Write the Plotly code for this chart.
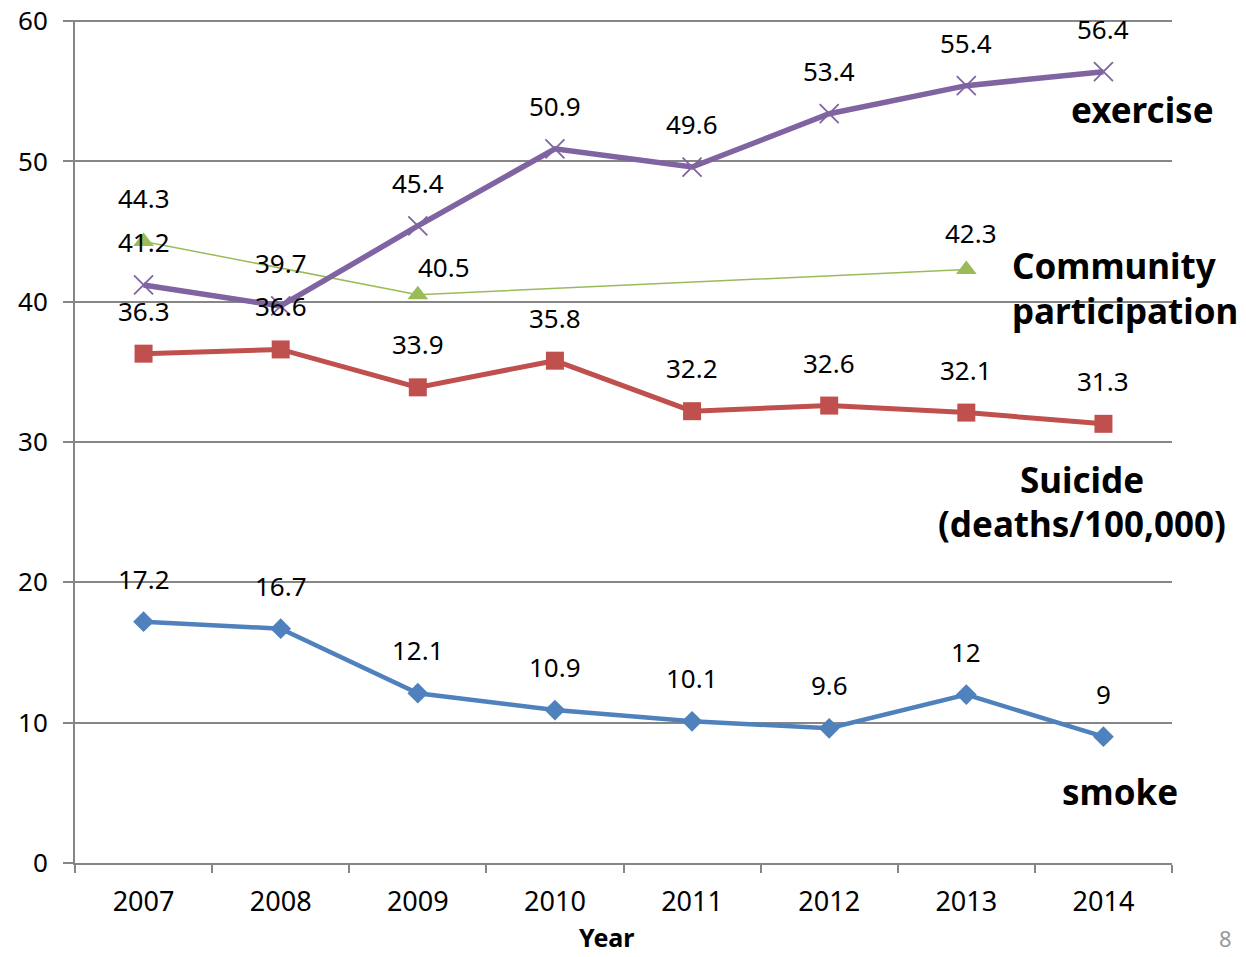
import plotly.graph_objects as go

years = ["2007", "2008", "2009", "2010", "2011", "2012", "2013", "2014"]
exercise = [41.2, 39.7, 45.4, 50.9, 49.6, 53.4, 55.4, 56.4]
suicide = [36.3, 36.6, 33.9, 35.8, 32.2, 32.6, 32.1, 31.3]
smoke = [17.2, 16.7, 12.1, 10.9, 10.1, 9.6, 12, 9]
community = [44.3, None, 40.5, None, None, None, 42.3, None]

FONT = "Noto Sans, Open Sans, sans-serif"
fig = go.Figure()

fig.add_trace(go.Scatter(x=years, y=community, mode="lines+markers", connectgaps=True,
                         line=dict(color="#9BBB59", width=1.5),
                         marker=dict(symbol="triangle-up", size=18, color="#9BBB59")))
fig.add_trace(go.Scatter(x=years, y=exercise, mode="lines+markers",
                         line=dict(color="#8064A2", width=5.5),
                         marker=dict(symbol="x-thin", size=19, color="#8064A2",
                                     line=dict(color="#8064A2", width=1.8))))
fig.add_trace(go.Scatter(x=years, y=suicide, mode="lines+markers",
                         line=dict(color="#C0504D", width=5),
                         marker=dict(symbol="square", size=18, color="#C0504D")))
fig.add_trace(go.Scatter(x=years, y=smoke, mode="lines+markers",
                         line=dict(color="#4F81BD", width=4.5),
                         marker=dict(symbol="diamond", size=16, color="#4F81BD")))

# per-label offsets (pixels) for community labels that sit off-centre in the reference
community_shift = {2: (26, 28), 6: (5, 36)}

annotations = []
for name, series in (("ex", exercise), ("su", suicide), ("sm", smoke), ("co", community)):
    for i, v in enumerate(series):
        if v is None:
            continue
        xs, ys = (0, 43)
        if name == "co" and i in community_shift:
            xs, ys = community_shift[i]
        annotations.append(dict(x=i, y=v, xref="x", yref="y", text=str(v), showarrow=False,
                                xshift=xs, yshift=ys, yanchor="middle",
                                font=dict(size=26, color="black", family=FONT)))

L, R, T, B = 75, 74, 20, 94
W, H = 1246, 957

def px2paper(px, py):
    return (px - L) / (W - L - R), 1 - (py - T) / (H - T - B)

labels = [
    ("<b>exercise</b>", 1142, 110, "center", 35),
    ("<b>Community</b>", 1010, 266, "left", 35),
    ("<b>participation</b>", 1010, 310, "left", 35),
    ("<b>Suicide</b>", 1082, 479, "center", 35),
    ("<b>(deaths/100,000)</b>", 1082, 523, "center", 35),
    ("<b>smoke</b>", 1120, 791, "center", 35),
    ("<b>Year</b>", 606, 937, "center", 25),
]
for txt, px, py, anc, sz in labels:
    x, y = px2paper(px, py)
    annotations.append(dict(x=x, y=y, xref="paper", yref="paper",
                            text=txt, showarrow=False, xanchor=anc, yanchor="middle",
                            font=dict(size=sz, color="black", family=FONT)))

x8, y8 = px2paper(1225, 938)
annotations.append(dict(x=x8, y=y8, xref="paper", yref="paper",
                        text="8", showarrow=False, xanchor="center", yanchor="middle",
                        font=dict(size=22, color="#999999", family=FONT)))

fig.update_layout(
    width=W, height=H,
    margin=dict(l=L, r=R, t=T, b=B),
    plot_bgcolor="white", paper_bgcolor="white",
    showlegend=False,
    font=dict(family=FONT, size=24, color="black"),
    annotations=annotations,
    xaxis=dict(type="category", range=[-0.5, 7.5], showgrid=False, automargin=False,
               showline=True, linecolor="#868686", linewidth=2,
               ticks="outside", tickson="boundaries", ticklen=8, tickwidth=2,
               tickcolor="#868686", tickfont=dict(size=27), ticklabelstandoff=14),
    yaxis=dict(range=[0, 60.08], tickvals=[0, 10, 20, 30, 40, 50, 60], automargin=False,
               showgrid=True, gridcolor="#868686", gridwidth=2,
               showline=True, linecolor="#868686", linewidth=2,
               ticks="outside", ticklen=10, tickwidth=2, tickcolor="#868686",
               tickfont=dict(size=26), zeroline=False, ticklabelstandoff=10),
)

fig.write_html("out.html", config={"displayModeBar": False},
               post_script="document.body.style.margin='0';")
